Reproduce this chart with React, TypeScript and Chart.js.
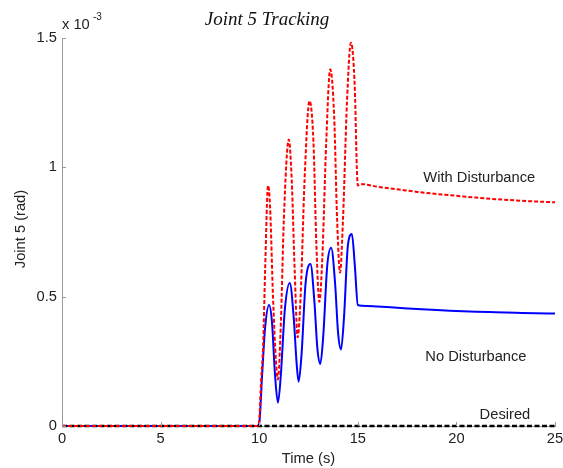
import React, { useEffect, useRef } from 'react';
import { Chart, registerables } from 'chart.js';

Chart.register(...registerables);

// Values are in units of 1e-3 rad
const timeNoDist = [0, 9.9, 10.0, 10.15, 10.3, 10.5, 10.65, 10.8, 10.95, 11.1, 11.3, 11.55, 11.75, 11.9, 12.0, 12.15, 12.35, 12.6, 12.8, 12.95, 13.1, 13.25, 13.45, 13.65, 13.85, 14.0, 14.15, 14.3, 14.5, 14.7, 14.85, 15.0, 15.2, 16, 17, 18, 19, 20, 21, 22, 23, 24, 25];
const valNoDist = [0, 0, 0.01, 0.2, 0.38, 0.468, 0.4, 0.2, 0.09, 0.2, 0.45, 0.553, 0.42, 0.24, 0.171, 0.28, 0.55, 0.626, 0.48, 0.3, 0.24, 0.35, 0.62, 0.689, 0.55, 0.36, 0.296, 0.42, 0.7, 0.742, 0.62, 0.468, 0.465, 0.462, 0.457, 0.452, 0.448, 0.445, 0.442, 0.44, 0.438, 0.436, 0.435];

const timeWithDist = [0, 9.9, 10.0, 10.1, 10.2, 10.3, 10.45, 10.55, 10.7, 10.85, 10.95, 11.1, 11.25, 11.5, 11.65, 11.8, 11.95, 12.1, 12.3, 12.55, 12.75, 12.9, 13.05, 13.2, 13.4, 13.6, 13.8, 13.95, 14.1, 14.25, 14.45, 14.65, 14.85, 14.95, 15.0, 15.2, 16, 17, 18, 19, 20, 21, 22, 23, 24, 25];
const valWithDist = [0, 0, 0.02, 0.18, 0.31, 0.6, 0.93, 0.85, 0.5, 0.25, 0.18, 0.4, 0.8, 1.108, 0.95, 0.6, 0.343, 0.5, 0.95, 1.257, 1.1, 0.7, 0.48, 0.65, 1.1, 1.379, 1.2, 0.8, 0.593, 0.8, 1.25, 1.482, 1.3, 1.0, 0.93, 0.935, 0.925, 0.915, 0.905, 0.897, 0.89, 0.883, 0.877, 0.872, 0.868, 0.865];

const timeDesired = [0, 25];
const valDesired = [0, 0];

const xTickValues = [0, 5, 10, 15, 20, 25];
const yTickValues = [0, 0.5, 1, 1.5];

const seriesLabels = ['No Disturbance', 'With Disturbance', 'Desired'];

const toPoints = (xs: number[], ys: number[]) => xs.map((x, i) => ({ x, y: ys[i] }));

const FONT = '"Liberation Sans", Arial, sans-serif';
const FS = 14.7;

const decorPlugin = {
  id: 'decor',
  afterDraw(chart: any) {
    const { ctx, chartArea, scales } = chart;
    const xs = scales.x;
    const ys = scales.y;
    ctx.save();
    // inward tick marks
    ctx.strokeStyle = '#9a9a9a';
    ctx.lineWidth = 1;
    ctx.beginPath();
    yTickValues.forEach((v) => {
      const py = Math.round(ys.getPixelForValue(v)) + 0.5;
      ctx.moveTo(chartArea.left, py);
      ctx.lineTo(chartArea.left + 4, py);
    });
    xTickValues.forEach((v) => {
      const px = Math.round(xs.getPixelForValue(v)) + 0.5;
      ctx.moveTo(px, chartArea.bottom);
      ctx.lineTo(px, chartArea.bottom - 4);
    });
    ctx.stroke();

    // series annotations
    ctx.fillStyle = '#222';
    ctx.font = `${FS}px ${FONT}`;
    ctx.textAlign = 'center';
    ctx.textBaseline = 'middle';
    ctx.fillText(seriesLabels[1], xs.getPixelForValue(21.16), ys.getPixelForValue(0.959));
    ctx.fillText(seriesLabels[0], xs.getPixelForValue(20.99), ys.getPixelForValue(0.267));
    ctx.fillText(seriesLabels[2], xs.getPixelForValue(22.46), ys.getPixelForValue(0.0425));

    // exponent
    ctx.textAlign = 'left';
    ctx.font = `${FS}px ${FONT}`;
    ctx.fillText('x 10', chartArea.left + 0, 25);
    ctx.font = `10px ${FONT}`;
    ctx.fillText('-3', chartArea.left + 31, 17);

    // title
    ctx.textAlign = 'center';
    ctx.font = `italic 19px "Liberation Serif", serif`;
    ctx.fillStyle = '#111';
    ctx.fillText('Joint 5 Tracking', 267, 20);

    // axis titles
    ctx.fillStyle = '#222';
    ctx.font = `${FS}px ${FONT}`;
    ctx.fillText('Time (s)', (chartArea.left + chartArea.right) / 2, 459);
    ctx.save();
    ctx.translate(21, 229);
    ctx.rotate(-Math.PI / 2);
    ctx.fillText('Joint 5 (rad)', 0, 0);
    ctx.restore();
    ctx.restore();
  },
};

export default function App() {
  const canvasRef = useRef<HTMLCanvasElement | null>(null);

  useEffect(() => {
    document.body.style.margin = '0';
    const canvas = canvasRef.current;
    if (!canvas) return;
    const chart = new Chart(canvas, {
      type: 'line',
      data: {
        datasets: [
          {
            label: seriesLabels[1],
            data: toPoints(timeWithDist, valWithDist),
            borderColor: '#ff0000',
            borderWidth: 2,
            borderDash: [4, 2],
            pointRadius: 0,
            cubicInterpolationMode: 'monotone',
            clip: false,
            order: 1,
          },
          {
            label: seriesLabels[2],
            data: toPoints(timeDesired, valDesired),
            borderColor: '#000000',
            borderWidth: 2.5,
            borderDash: [5, 2.5],
            pointRadius: 0,
            clip: false,
            order: 2,
          },
          {
            label: seriesLabels[0],
            data: toPoints(timeNoDist, valNoDist),
            borderColor: '#0000ff',
            borderWidth: 2,
            pointRadius: 0,
            cubicInterpolationMode: 'monotone',
            clip: false,
            order: 3,
          },
        ],
      },
      options: {
        responsive: false,
        animation: false,
        devicePixelRatio: 1,
        layout: { padding: { top: 38, right: 8, left: 0, bottom: 0 } },
        plugins: {
          legend: { display: false },
          tooltip: { enabled: false },
          title: { display: false },
        },
        scales: {
          x: {
            type: 'linear',
            min: 0,
            max: 25,
            afterFit: (s: any) => { s.height = 42; s.paddingLeft = 0; s.paddingRight = 0; },
            afterBuildTicks: (s: any) => { s.ticks = xTickValues.map((v) => ({ value: v })); },
            grid: { display: false, drawTicks: false },
            border: { display: true, color: '#9a9a9a', width: 1 },
            ticks: {
              padding: 4,
              color: '#222',
              font: { family: FONT, size: FS },
              maxRotation: 0,
              callback: (v: any) => String(v),
            },
          },
          y: {
            type: 'linear',
            min: 0,
            max: 1.5,
            afterFit: (s: any) => { s.width = 62; s.paddingTop = 0; s.paddingBottom = 0; },
            afterBuildTicks: (s: any) => { s.ticks = yTickValues.map((v) => ({ value: v })); },
            grid: { display: false, drawTicks: false },
            border: { display: true, color: '#9a9a9a', width: 1 },
            ticks: {
              padding: 5,
              color: '#222',
              font: { family: FONT, size: FS },
              callback: (v: any) => String(v),
            },
          },
        },
      },
      plugins: [decorPlugin],
    });
    return () => chart.destroy();
  }, []);

  return (
    <div style={{ width: 563, height: 468 }}>
      <canvas ref={canvasRef} width={563} height={468} />
    </div>
  );
}
